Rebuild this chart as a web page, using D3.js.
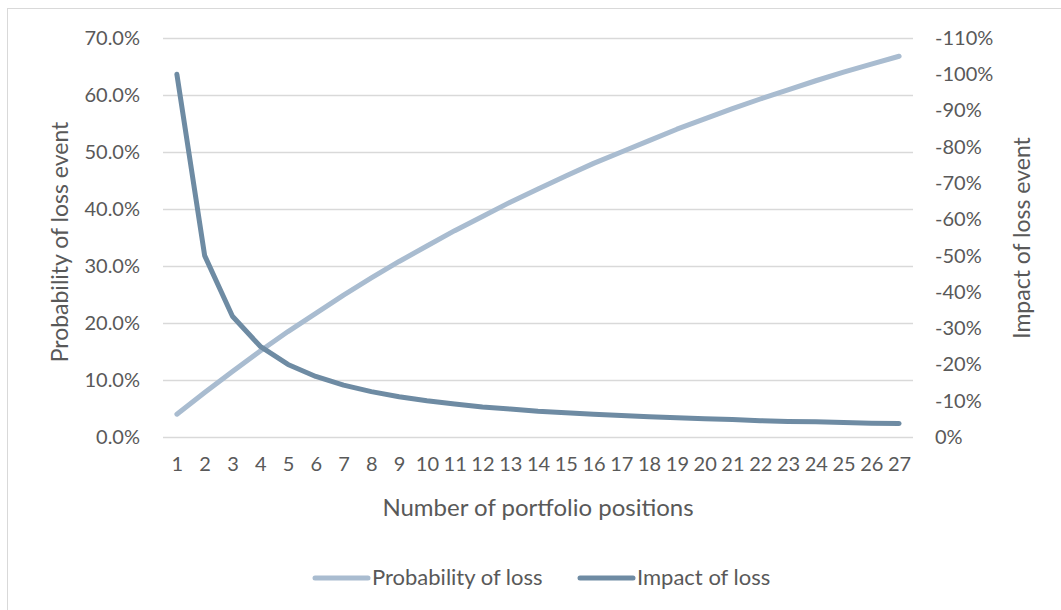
<!DOCTYPE html>
<html>
<head>
<meta charset="utf-8">
<script src="https://cdn.jsdelivr.net/npm/d3@7"></script>
<style>
  body { margin: 0; background: #fff; }
  text { font-family: Lato, "Open Sans", sans-serif; fill: #595959; }
</style>
</head>
<body>
<svg id="chart" width="1061" height="610"></svg>
<script>
// Data
const positions = ["1","2","3","4","5","6","7","8","9","10","11","12","13","14","15","16","17","18","19","20","21","22","23","24","25","26","27"];
const probabilityOfLoss = [4.0, 7.8, 11.5, 15.1, 18.5, 21.7, 24.9, 27.9, 30.8, 33.5, 36.2, 38.7, 41.2, 43.5, 45.8, 48.0, 50.0, 52.0, 54.0, 55.8, 57.6, 59.3, 60.9, 62.5, 64.0, 65.4, 66.8];
const impactOfLoss = [-100, -50, -33.3, -25, -20, -16.7, -14.3, -12.5, -11.1, -10, -9.1, -8.3, -7.7, -7.1, -6.7, -6.3, -5.9, -5.6, -5.3, -5.0, -4.8, -4.5, -4.3, -4.2, -4.0, -3.8, -3.7];
const leftTicks = [0, 10, 20, 30, 40, 50, 60, 70];
const rightTicks = [0, -10, -20, -30, -40, -50, -60, -70, -80, -90, -100, -110];
const seriesNames = ["Probability of loss", "Impact of loss"];
const seriesColors = ["#a9bcd0", "#6e8ba3"];

const margin = {top: 38, right: 148, bottom: 173, left: 163};
const W = 1061, H = 610;
const innerW = W - margin.left - margin.right;
const innerH = H - margin.top - margin.bottom;

const svg = d3.select("#chart");

// outer chart border
svg.append("rect")
    .attr("x", 7.5).attr("y", 8.5)
    .attr("width", W).attr("height", H)
    .attr("fill", "none")
    .attr("stroke", "#d9d9d9");

const g = svg.append("g")
    .attr("transform", "translate(" + margin.left + "," + margin.top + ")");

const x = d3.scalePoint()
    .domain(positions)
    .range([0, innerW])
    .padding(0.5);

const yLeft = d3.scaleLinear().domain([0, 70]).range([innerH, 0]);
const yRight = d3.scaleLinear().domain([0, -110]).range([innerH, 0]);

// gridlines
g.append("g")
    .selectAll("line")
    .data(leftTicks)
    .enter().append("line")
    .attr("x1", 0).attr("x2", innerW)
    .attr("y1", d => Math.round(yLeft(d)) + 0.5)
    .attr("y2", d => Math.round(yLeft(d)) + 0.5)
    .attr("stroke", "#d9d9d9")
    .attr("stroke-width", 1.3);

// left axis
const leftAxis = g.append("g")
    .call(d3.axisLeft(yLeft).tickValues(leftTicks).tickSize(0).tickPadding(23)
        .tickFormat(d => d.toFixed(1) + "%"));
leftAxis.select(".domain").remove();
leftAxis.selectAll("text").style("font-size", "20px").attr("fill", "#595959");

// right axis
const rightAxis = g.append("g")
    .attr("transform", "translate(" + innerW + ",0)")
    .call(d3.axisRight(yRight).tickValues(rightTicks).tickSize(0).tickPadding(22)
        .tickFormat(d => d + "%"));
rightAxis.select(".domain").remove();
rightAxis.selectAll("text").style("font-size", "20px").attr("fill", "#595959");

// bottom axis
const bottomAxis = g.append("g")
    .attr("transform", "translate(0," + innerH + ")")
    .call(d3.axisBottom(x).tickSize(0).tickPadding(20));
bottomAxis.select(".domain").remove();
bottomAxis.selectAll("text").style("font-size", "20px").attr("fill", "#595959");

// lines
const lineLeft = d3.line()
    .x((d, i) => x(positions[i]))
    .y(d => yLeft(d));
const lineRight = d3.line()
    .x((d, i) => x(positions[i]))
    .y(d => yRight(d));

g.append("path")
    .datum(probabilityOfLoss)
    .attr("d", lineLeft)
    .attr("fill", "none")
    .attr("stroke", seriesColors[0])
    .attr("stroke-width", 5)
    .attr("stroke-linecap", "round")
    .attr("stroke-linejoin", "round");

g.append("path")
    .datum(impactOfLoss)
    .attr("d", lineRight)
    .attr("fill", "none")
    .attr("stroke", seriesColors[1])
    .attr("stroke-width", 5)
    .attr("stroke-linecap", "round")
    .attr("stroke-linejoin", "round");

// axis titles
svg.append("text")
    .attr("transform", "translate(68,242) rotate(-90)")
    .attr("text-anchor", "middle")
    .style("font-size", "23px")
    .text("Probability of loss event");

svg.append("text")
    .attr("transform", "translate(1030,238) rotate(-90)")
    .attr("text-anchor", "middle")
    .style("font-size", "23px")
    .text("Impact of loss event");

svg.append("text")
    .attr("x", 538)
    .attr("y", 516)
    .attr("text-anchor", "middle")
    .style("font-size", "24px")
    .text("Number of portfolio positions");

// legend
const legend = svg.append("g").attr("transform", "translate(313,578)");
const legendX = [0, 265];
seriesNames.forEach(function (name, i) {
    const item = legend.append("g").attr("transform", "translate(" + legendX[i] + ",0)");
    item.append("line")
        .attr("x1", 2).attr("x2", 55)
        .attr("y1", 0).attr("y2", 0)
        .attr("stroke", seriesColors[i])
        .attr("stroke-width", 5)
        .attr("stroke-linecap", "round");
    item.append("text")
        .attr("x", 59)
        .attr("y", 7)
        .style("font-size", "22px")
        .text(name);
});
</script>
</body>
</html>
